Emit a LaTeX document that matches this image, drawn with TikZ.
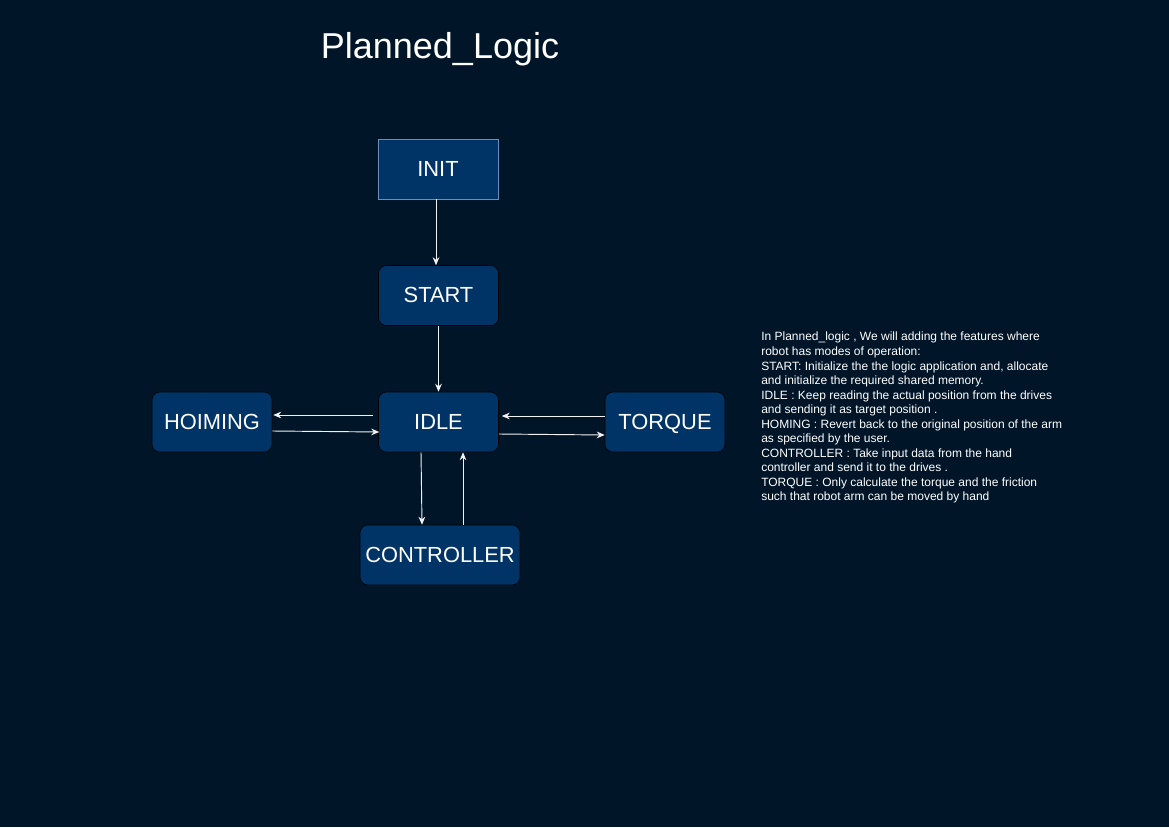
\documentclass[tikz,border=0pt]{standalone}
\usepackage{fontspec}
\setmainfont{Liberation Sans}
\usetikzlibrary{arrows.meta,calc}
\definecolor{bgdark}{RGB}{0,21,40}
\definecolor{boxblue}{RGB}{0,51,102}
\definecolor{initedge}{RGB}{108,142,191}
\tikzset{
  state/.style={draw=black,fill=boxblue,rounded corners=6pt,minimum width=90pt,minimum height=45pt,text height=11pt,text depth=0pt,text=white,font=\fontsize{16.4}{19}\selectfont},
  flow/.style={draw=white!90!gray,line width=0.7pt,-{Stealth[length=6pt,width=5pt]}}
}
\begin{document}
\begin{tikzpicture}[x=0.75pt,y=-0.75pt]
        % draw the background
        \fill[bgdark] (0,0) rectangle (1169,827);
        \useasboundingbox (0,0) rectangle (1169,827);
        % draw the title
        \node[text=white,font=\fontsize{27}{32}\selectfont] (title) at (440,49) {Planned\_Logic};
        % draw the states
        \node[state,rounded corners=0pt,draw=initedge] (init) at (438,169) {INIT};
        \node[state] (start) at (438.5,295.5) {START};
        \node[state] (idle) at (438.5,422) {IDLE};
        \node[state] (hoiming) at (212,422) {HOIMING};
        \node[state] (torque) at (665,422) {TORQUE};
        \node[state,minimum width=120pt] (controller) at (440,555) {CONTROLLER};
        % draw the transitions
        \draw[flow] ($(init.south)+(-2,0)$) -- ($(start.north)+(-2.5,0)$);
        \draw[flow] (start.south) -- (idle.north);
        \draw[flow] ($(idle.west)+(-5,-7)$) -- ($(hoiming.east)+(1,-7)$);
        \draw[flow] ($(hoiming.east)+(0,9)$) -- ($(idle.west)+(1,10)$);
        \draw[flow] ($(torque.west)+(0,-6)$) -- ($(idle.east)+(3,-6)$);
        \draw[flow] ($(idle.east)+(0,12)$) -- ($(torque.west)+(0,13)$);
        \draw[flow] ($(idle.south)+(-17.5,0)$) -- ($(controller.north)+(-18,0)$);
        \draw[flow] ($(controller.north)+(23,0)$) -- ($(idle.south)+(24.5,0)$);
        % draw the notes
        \node[anchor=north west,align=left,text=white,inner sep=0pt,font=\fontsize{9}{10.9}\selectfont] (notes) at (761,332) {In Planned\_logic , We will adding the features where\\
robot has modes of operation:\\
START: Initialize the the logic application and, allocate\\
and initialize the required shared memory.\\
IDLE : Keep reading the actual position from the drives\\
and sending it as target position .\\
HOMING : Revert back to the original position of the arm\\
as specified by the user.\\
CONTROLLER : Take input data from the hand\\
controller and send it to the drives .\\
TORQUE : Only calculate the torque and the friction\\
such that robot arm can be moved by hand};
    \end{tikzpicture}
\end{document}
